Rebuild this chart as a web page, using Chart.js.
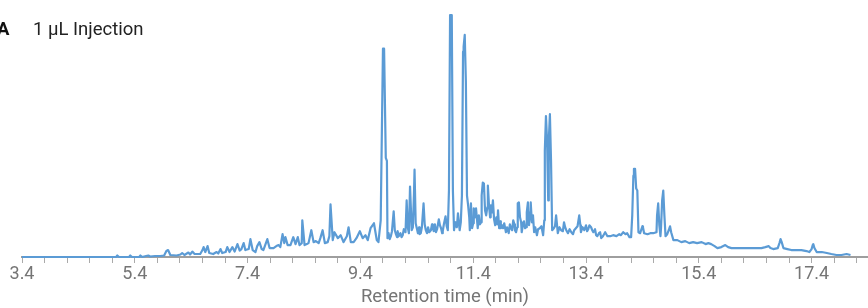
<!DOCTYPE html>
<html lang="en">
<head>
    <meta charset="UTF-8">
    <title>1 µL Injection</title>
    <script src="https://cdn.jsdelivr.net/npm/chart.js"></script>
    <style>
        body {
            margin: 0;
            padding: 0;
            background-color: #ffffff;
            font-family: 'Roboto', sans-serif;
        }

        .wrap {
            position: relative;
            width: 868px;
            height: 308px;
            overflow: hidden;
        }

        .panel-letter {
            position: absolute;
            left: -3px;
            top: 20px;
            font-size: 18.5px;
            line-height: 18px;
            font-weight: bold;
            color: #111;
        }

        .panel-title {
            position: absolute;
            left: 33px;
            top: 20px;
            font-size: 18.5px;
            line-height: 18px;
            color: #222;
        }
    </style>
</head>
<body>
    <div class="wrap">
        <canvas id="chromatogram" width="868" height="308"></canvas>
        <div class="panel-letter">A</div>
        <div class="panel-title">1 µL Injection</div>
    </div>

    <script>
        // retention time (min)
        const retentionTime = [
            3.40, 4.43, 5.07, 5.09, 5.12, 5.30, 5.32, 5.35, 5.48, 5.50, 5.53, 5.60, 5.64, 5.67,
            5.76, 5.85, 5.92, 5.96, 5.99, 6.03, 6.14, 6.21, 6.24, 6.28, 6.35, 6.38, 6.42, 6.46,
            6.56, 6.60, 6.62, 6.65, 6.69, 6.72, 6.79, 6.85, 6.88, 6.92, 6.95, 7.01, 7.04, 7.08,
            7.13, 7.17, 7.22, 7.26, 7.29, 7.33, 7.36, 7.42, 7.45, 7.49, 7.54, 7.57, 7.61, 7.65,
            7.68, 7.75, 7.79, 7.86, 7.91, 7.95, 7.98, 8.02, 8.05, 8.07, 8.11, 8.16, 8.21, 8.25,
            8.29, 8.32, 8.36, 8.37, 8.41,
            8.45, 8.48, 8.53, 8.57, 8.61, 8.66, 8.69, 8.73, 8.77, 8.82, 8.85, 8.87, 8.91, 8.94,
            9.00, 9.05, 9.10, 9.16, 9.19, 9.23, 9.28, 9.33, 9.39, 9.44, 9.49, 9.53, 9.58, 9.64,
            9.67, 9.69, 9.72,
            9.76, 9.80, 9.82, 9.85, 9.87,
            9.88, 9.90, 9.92, 9.94, 9.96, 9.99, 10.01, 10.03, 10.05, 10.06,
            10.08, 10.11, 10.13, 10.15, 10.17, 10.20, 10.22, 10.24, 10.26, 10.28,
            10.31, 10.33, 10.35, 10.36, 10.38, 10.40, 10.42, 10.44, 10.45, 10.47,
            10.49, 10.52, 10.54, 10.56, 10.58, 10.60, 10.62, 10.65, 10.67, 10.68,
            10.70, 10.72, 10.74, 10.76, 10.79, 10.81, 10.83, 10.85, 10.86, 10.88,
            10.91, 10.93, 10.95, 10.97, 10.99, 11.02, 11.04, 11.06, 11.08, 11.09,
            11.11, 11.13, 11.15, 11.16, 11.18, 11.20, 11.22, 11.23, 11.25, 11.27,
            11.29, 11.31, 11.33, 11.34, 11.36, 11.38, 11.40, 11.41, 11.43, 11.45,
            11.47, 11.48, 11.50, 11.52, 11.54, 11.55, 11.57, 11.59, 11.61, 11.63,
            11.65, 11.66, 11.68, 11.70, 11.71, 11.73, 11.75, 11.77, 11.79, 11.81,
            11.83, 11.84, 11.86, 11.88, 11.89, 11.91, 11.93, 11.95, 11.98, 12.00,
            12.03, 12.05, 12.07, 12.09, 12.11, 12.13, 12.14, 12.16, 12.18, 12.19,
            12.21, 12.23, 12.25, 12.26, 12.28, 12.30, 12.32, 12.34, 12.35, 12.37,
            12.39, 12.41, 12.42, 12.44, 12.46, 12.48, 12.50, 12.53, 12.55, 12.58,
            12.61, 12.64, 12.66, 12.67, 12.69, 12.71, 12.73, 12.74, 12.76, 12.78,
            12.80, 12.83, 12.85, 12.87, 12.90, 12.93, 12.96, 12.99, 13.01, 13.03,
            13.05, 13.08, 13.11, 13.14, 13.17, 13.19, 13.22, 13.25, 13.28, 13.30,
            13.31, 13.34, 13.37, 13.40, 13.42, 13.44, 13.46, 13.49, 13.51, 13.53,
            13.56, 13.58, 13.60, 13.63, 13.65, 13.67, 13.70,
            13.74, 13.78, 13.83, 13.88, 13.94, 13.99, 14.02, 14.06, 14.10, 14.13,
            14.17, 14.20, 14.22, 14.24, 14.25, 14.27, 14.29, 14.31, 14.33, 14.36,
            14.40, 14.41, 14.43, 14.49, 14.54, 14.59, 14.65, 14.66, 14.68, 14.70,
            14.72, 14.73, 14.75, 14.77, 14.79, 14.81, 14.84, 14.88, 14.89, 14.91,
            14.95, 15.02, 15.09, 15.16, 15.23, 15.30, 15.37, 15.45, 15.52, 15.57,
            15.62, 15.68, 15.73, 15.80, 15.87, 15.92, 15.98, 16.07, 16.16, 16.24,
            16.33, 16.42, 16.51, 16.58, 16.64, 16.67, 16.72, 16.80, 16.83, 16.85,
            16.87, 16.90, 16.97, 17.04, 17.13, 17.22, 17.31, 17.36, 17.40, 17.42,
            17.43, 17.45, 17.49, 17.58, 17.67, 17.75, 17.84, 17.93, 18.02, 18.09
        ];

        // detector response (arbitrary units)
        const signal = [
            0, 0, 0, 1.5, 0, 0, 1.5, 0, 0, 1.5, 0, 1, 1.5, 0.5,
            1, 1, 1.5, 6, 7, 2, 1.5, 2.5, 4, 2, 4.5, 2.5, 5.5, 3,
            3, 7, 10, 5, 11, 4, 3, 5, 3.5, 8, 4, 5, 10, 5,
            10, 5.5, 13, 6.5, 8, 14, 7, 8, 18, 7, 5, 11, 15, 8,
            7, 18, 9, 9, 11, 12, 10, 23, 14, 20, 12, 12, 20, 13,
            20, 12, 14, 37, 12,
            13, 14, 27, 15, 16, 14, 19, 27, 14, 15, 21, 53, 17, 25,
            19, 22, 15, 21, 30, 15, 15, 19, 26, 19, 22, 17, 29, 34,
            24, 17, 15,
            37, 210, 210, 100, 97,
            19, 24, 18, 21, 26, 46, 27, 23, 20, 26,
            21, 24, 20, 22, 28, 25, 57, 30, 24, 71,
            27, 30, 64, 88, 34, 29, 24, 30, 23, 24,
            30, 54, 33, 27, 24, 30, 25, 27, 33, 30,
            26, 33, 25, 28, 38, 32, 29, 24, 26, 33,
            41, 31, 27, 67, 244, 244, 67, 27, 35, 31,
            30, 44, 32, 27, 35, 62, 207, 212, 224, 177,
            62, 52, 40, 27, 54, 29, 34, 49, 40, 49,
            36, 29, 42, 33, 35, 62, 75, 74, 47, 42,
            50, 72, 52, 40, 52, 45, 57, 38, 32, 40,
            33, 47, 29, 36, 29, 32, 29, 34, 25, 30,
            24, 33, 29, 27, 37, 33, 27, 25, 30, 54,
            55, 40, 35, 25, 32, 36, 29, 30, 45, 55,
            32, 45, 55, 35, 42, 25, 30, 22, 28, 29,
            31, 22, 37, 107, 142, 117, 57, 117, 144, 97,
            27, 29, 31, 42, 24, 30, 27, 26, 35, 30,
            27, 24, 28, 25, 23, 27, 29, 31, 42, 32,
            25, 30, 27, 32, 26, 28, 32, 30, 27, 25,
            28, 22, 21, 24, 25, 19, 21,
            25, 21, 21, 22, 21, 23, 22, 25, 23, 24,
            20, 20, 42, 82, 89, 89, 69, 67, 25, 24,
            31, 30, 24, 23, 24, 24, 25, 42, 54, 32,
            21, 29, 57, 67, 42, 21, 23, 29, 31, 25,
            17, 17, 15, 16, 14, 15, 14, 15, 13, 14,
            13, 11, 9, 10, 12, 10, 9, 9, 9, 9,
            9, 9, 9, 10, 11, 9, 8, 9, 14, 18,
            15, 9, 8, 7, 7, 7, 6, 5, 8, 12,
            13, 9, 5, 5, 4, 3, 2, 2, 3, 2
        ];

        const tickValues = [
            3.4, 3.8, 4.2, 4.6, 5.0, 5.4, 5.8, 6.2, 6.6, 7.0, 7.4, 7.8, 8.2, 8.6, 9.0, 9.4,
            9.8, 10.2, 10.6, 11.0, 11.4, 11.8, 12.2, 12.6, 13.0, 13.4, 13.8, 14.2, 14.6, 15.0,
            15.4, 15.8, 16.2, 16.6, 17.0, 17.4, 17.8, 18.2
        ];
        const labelledTicks = [3.4, 5.4, 7.4, 9.4, 11.4, 13.4, 15.4, 17.4];

        const points = retentionTime.map((t, i) => ({ x: t, y: signal[i] }));

        const ctx = document.getElementById('chromatogram').getContext('2d');
        const chart = new Chart(ctx, {
            type: 'line',
            data: {
                datasets: [{
                    data: points,
                    borderColor: '#5b9bd5',
                    borderWidth: 2.2,
                    pointRadius: 0,
                    tension: 0,
                    borderJoinStyle: 'round',
                    fill: false,
                    clip: false
                }]
            },
            options: {
                responsive: false,
                animation: false,
                layout: {
                    padding: { left: 22, right: 0, top: 14, bottom: 0 }
                },
                plugins: {
                    legend: { display: false },
                    tooltip: { enabled: false }
                },
                scales: {
                    x: {
                        type: 'linear',
                        min: 3.4,
                        max: 18.4,
                        afterBuildTicks: (scale) => {
                            scale.ticks = tickValues.map(v => ({ value: v }));
                        },
                        afterFit: (scale) => {
                            scale.height = 51;
                        },
                        grid: {
                            drawOnChartArea: false,
                            drawTicks: true,
                            tickLength: 6,
                            color: '#aaaaaa',
                            lineWidth: 1
                        },
                        border: {
                            color: '#9e9e9e',
                            width: 2
                        },
                        ticks: {
                            autoSkip: false,
                            maxRotation: 0,
                            minRotation: 0,
                            padding: 1,
                            color: '#757575',
                            font: { family: 'Roboto', size: 18 },
                            callback: (value) => {
                                const v = Math.round(value * 10) / 10;
                                return labelledTicks.includes(v) ? v.toFixed(1) : '';
                            }
                        },
                        title: {
                            display: true,
                            text: 'Retention time (min)',
                            color: '#757575',
                            font: { family: 'Roboto', size: 18.5 },
                            padding: { top: 0, bottom: 0 }
                        }
                    },
                    y: {
                        display: false,
                        min: 0,
                        max: 245
                    }
                }
            }
        });
    </script>
</body>
</html>
